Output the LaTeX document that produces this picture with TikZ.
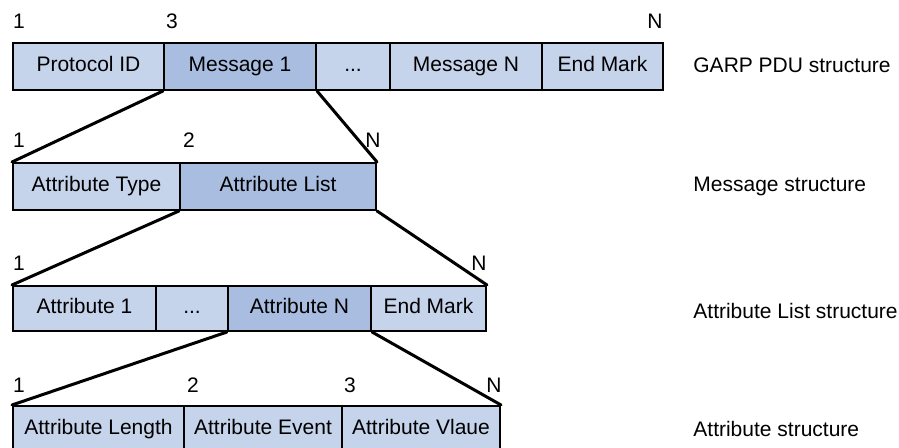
\documentclass[tikz,border=0pt]{standalone}
\usepackage{fontspec}
\setmainfont{Liberation Sans}
\definecolor{lightcell}{RGB}{197,211,235}
\definecolor{darkcell}{RGB}{168,189,224}
\newcommand\mycell[7]{\node[#1, anchor=north west, minimum width={(#4-#2)*0.5pt}, minimum height={(#5-#3)*0.5pt}] (#6) at (#2,#3) {#7};}
\begin{document}
\begin{tikzpicture}[x=0.5pt,y=-0.5pt,
  every node/.style={font=\fontsize{10.5}{12}\selectfont, inner sep=0pt},
  cell/.style={draw=black, line width=1pt, fill=lightcell, text height=7.6pt, text depth=2.2pt},
  hcell/.style={cell, fill=darkcell},
  conn/.style={line width=1.5pt, line cap=round},
  num/.style={anchor=center},
  rowcap/.style={anchor=west}]
\clip (0,0) rectangle (899,448);
% Row 1: GARP PDU
\mycell{cell}{12}{42}{163}{89}{pid}{Protocol ID}
\mycell{hcell}{163}{42}{315}{89}{msg1}{Message 1}
\mycell{cell}{315}{42}{389}{89}{dots1}{...}
\mycell{cell}{389}{42}{541}{89}{msgn}{Message N}
\mycell{cell}{541}{42}{662}{89}{end1}{End Mark}
\node[num] (n11) at (19,21) {1};
\node[num] (n13) at (172,21) {3};
\node[num] (n1N) at (655,21) {N};
\node[rowcap] (c1) at (693,65) {GARP PDU structure};
% Row 2: Message
\mycell{cell}{12}{162}{179}{209}{atype}{Attribute Type}
\mycell{hcell}{179}{162}{375}{209}{alist}{Attribute List}
\node[num] (n21) at (19,140) {1};
\node[num] (n22) at (189,140) {2};
\node[num] (n2N) at (373,140) {N};
\node[rowcap] (c2) at (693,186) {Message structure};
% Row 3: Attribute List
\mycell{cell}{12}{285}{155}{330}{a1}{Attribute 1}
\mycell{cell}{155}{285}{227}{330}{dots3}{...}
\mycell{hcell}{227}{285}{370}{330}{an}{Attribute N}
\mycell{cell}{370}{285}{485}{330}{end3}{End Mark}
\node[num] (n31) at (19,263) {1};
\node[num] (n3N) at (479,263) {N};
\node[rowcap] (c3) at (693,311) {Attribute List structure};
% Row 4: Attribute
\mycell{cell}{12}{405}{183}{452}{alen}{Attribute Length}
\mycell{cell}{183}{405}{341}{452}{aev}{Attribute Event}
\mycell{cell}{341}{405}{499}{452}{aval}{Attribute Vlaue}
\node[num] (n41) at (19,385) {1};
\node[num] (n42) at (193,385) {2};
\node[num] (n43) at (350,385) {3};
\node[num] (n4N) at (494,385) {N};
\node[rowcap] (c4) at (693,429) {Attribute structure};
% Connectors
\draw[conn] (msg1.south west) -- (atype.north west);
\draw[conn] (msg1.south east) -- (alist.north east);
\draw[conn] (alist.south west) -- (a1.north west);
\draw[conn] (alist.south east) -- (end3.north east);
\draw[conn] (an.south west) -- (alen.north west);
\draw[conn] (an.south east) -- (aval.north east);
\end{tikzpicture}
\end{document}
